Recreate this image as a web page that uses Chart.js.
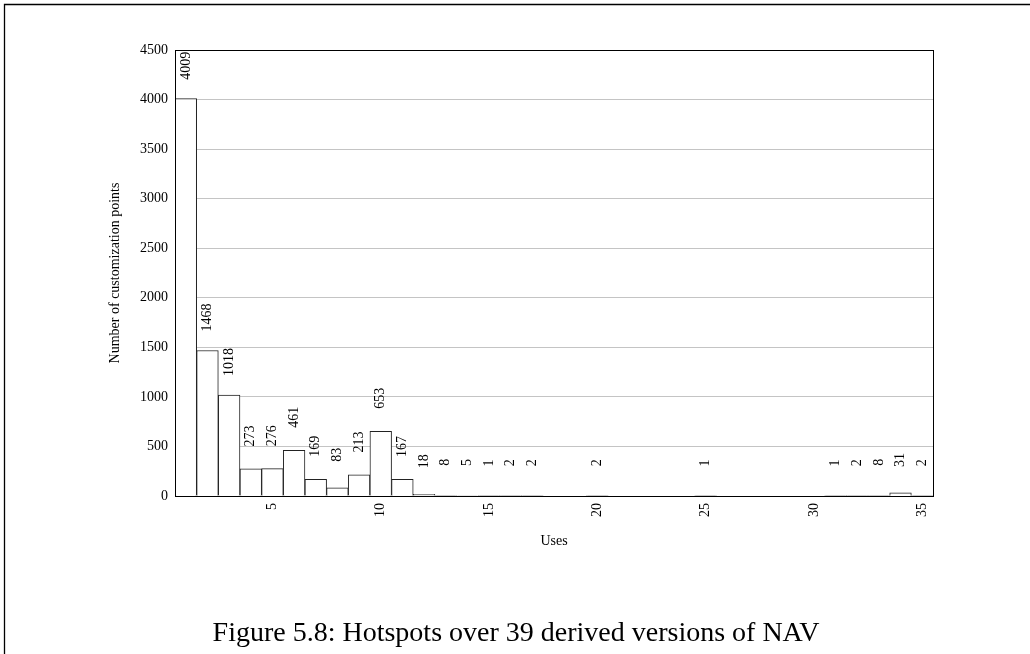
<!DOCTYPE html>
<html><head><meta charset="utf-8">
<script src="https://cdn.jsdelivr.net/npm/chart.js@4"></script>
<style>
html,body{margin:0;padding:0;background:#fff;}
#c{position:absolute;left:0;top:0;}
</style>
</head><body>
<canvas id="c" width="1030" height="654"></canvas>
<script>
const categories = ['1','2','3','4','5','6','7','8','9','10','11','12','13','14','15','16','17','18','19','20','21','22','23','24','25','26','27','28','29','30','31','32','33','34','35'];
const counts = [4009,1468,1018,273,276,461,169,83,213,653,167,18,8,5,1,2,2,0,0,2,0,0,0,0,1,0,0,0,0,0,1,2,8,31,2];
const xTickLabels = ['5','10','15','20','25','30','35'];
const yMin = 0, yMax = 4500, yStep = 500;
const xTitle = 'Uses';
const yTitle = 'Number of customization points';
const caption = 'Figure 5.8: Hotspots over 39 derived versions of NAV';

const FONT = '"Liberation Serif", "Times New Roman", serif';
const f14 = {family: FONT, size: 14};

const extras = {
  id: 'extras',
  afterDatasetsDraw(chart) {
    const c = chart.ctx, a = chart.chartArea;
    const meta = chart.getDatasetMeta(0);
    c.save();
    c.font = '14px ' + FONT;
    c.fillStyle = '#000';
    c.textAlign = 'center';
    c.textBaseline = 'middle';
    meta.data.forEach((bar, i) => {
      const v = counts[i];
      if (!v) return;
      c.save();
      c.translate(bar.x, bar.y - 33);
      c.rotate(-Math.PI / 2);
      c.fillText(String(v), 0, 0);
      c.restore();
    });
    c.strokeStyle = '#000';
    c.lineWidth = 1;
    c.strokeRect(Math.round(a.left) + 0.5, Math.round(a.top) + 0.5, Math.round(a.right - a.left), Math.round(a.bottom - a.top));
    c.restore();
  },
  afterDraw(chart) {
    const c = chart.ctx;
    c.save();
    c.strokeStyle = '#000';
    c.lineWidth = 1.3;
    c.beginPath();
    c.moveTo(4.5, 660); c.lineTo(4.5, 4.5); c.lineTo(1040, 4.5);
    c.stroke();
    c.font = '28px ' + FONT;
    c.fillStyle = '#000';
    c.textAlign = 'center';
    c.textBaseline = 'alphabetic';
    c.fillText(caption, 516, 641);
    c.restore();
  }
};

new Chart(document.getElementById('c').getContext('2d'), {
  type: 'bar',
  data: {
    labels: categories,
    datasets: [{
      data: counts,
      backgroundColor: '#ffffff',
      borderColor: '#222222',
      borderWidth: 1,
      categoryPercentage: 1,
      barPercentage: 1
    }]
  },
  options: {
    responsive: false,
    animation: false,
    devicePixelRatio: 1,
    layout: {padding: {left: 103, top: 50, right: 97, bottom: 100}},
    plugins: {legend: {display: false}, tooltip: {enabled: false}},
    scales: {
      x: {
        grid: {display: false, drawTicks: false},
        border: {display: false},
        ticks: {
          autoSkip: false, maxRotation: 90, minRotation: 90, padding: 7,
          font: f14, color: '#000',
          callback: function (v) { const l = this.getLabelForValue(v); return xTickLabels.includes(l) ? l : ''; }
        },
        title: {display: true, text: xTitle, font: f14, color: '#000', padding: {top: 0, bottom: 4}},
        afterFit(s) { s.height = 58; }
      },
      y: {
        min: yMin, max: yMax,
        ticks: {stepSize: yStep, padding: 7, font: f14, color: '#000', callback: (v) => String(v)},
        grid: {
          drawTicks: false,
          color: (ctx) => (ctx.tick && (ctx.tick.value === yMin || ctx.tick.value === yMax)) ? 'rgba(0,0,0,0)' : '#c4c4c4'
        },
        border: {display: false},
        title: {display: true, text: yTitle, font: f14, color: '#000', padding: {top: 4, bottom: 0}},
        afterFit(s) { s.width = 72; }
      }
    }
  },
  plugins: [extras]
});
</script>
</body></html>
